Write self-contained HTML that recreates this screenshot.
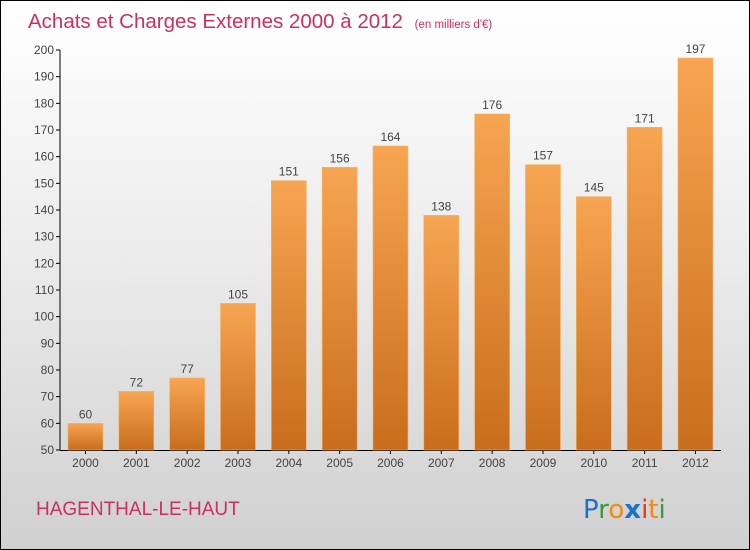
<!DOCTYPE html>
<html><head><meta charset="utf-8"><style>
html,body{margin:0;padding:0;}
body{width:750px;height:550px;overflow:hidden;font-family:"Liberation Sans",sans-serif;}
#wrap{position:relative;width:748px;height:548px;border:1px solid #000;background:linear-gradient(#ffffff 0%,#ececec 45%,#d0d0d0 100%);}
</style></head><body>
<div id="wrap">
<svg id="chart" width="748" height="548" style="position:absolute;left:0;top:0">
<defs>
<linearGradient id="bg" x1="0" y1="0" x2="0" y2="1">
<stop offset="0" stop-color="#f7a552"/><stop offset="1" stop-color="#c96d1c"/>
</linearGradient>
</defs>
<text x="27" y="27" font-size="20.5" fill="#c8325e">Achats et Charges Externes 2000 à 2012 <tspan font-size="11.5" dx="6">(en milliers d'€)</tspan></text>
<text x="35" y="514" font-size="19" fill="#c8325e">HAGENTHAL-LE-HAUT</text>
<g font-size="26" font-family="'DejaVu Sans',sans-serif">
<text x="582" y="517"><tspan fill="#1a73c8">P</tspan><tspan fill="#3a9a3a">r</tspan><tspan fill="#f08a10">o</tspan><tspan fill="#1a73c8" font-weight="bold">x</tspan><tspan fill="#e23a1a">i</tspan><tspan fill="#f08a10">t</tspan><tspan fill="#3a9a3a">i</tspan></text>
</g>
<g id="axes"></g>
<g id="bars"></g>
</svg>
</div>
<script>
const years=["2000","2001","2002","2003","2004","2005","2006","2007","2008","2009","2010","2011","2012"];
const values=[60,72,77,105,151,156,164,138,176,157,145,171,197];
const yTicks=[50,60,70,80,90,100,110,120,130,140,150,160,170,180,190,200];
const NS="http://www.w3.org/2000/svg";
const yMin=50,yMax=200,y0=449,y1=49;
function yS(v){return y0-(v-yMin)/(yMax-yMin)*(y0-y1);}
function xS(i){return 67+i*50.83;}
const bw=35;
const axes=document.getElementById('axes'),bars=document.getElementById('bars');
function mk(t,a,p){const e=document.createElementNS(NS,t);for(const k in a)e.setAttribute(k,a[k]);p.appendChild(e);return e;}
let yl=mk('line',{x1:59,y1:y1,x2:59,y2:y0,stroke:'#000','stroke-width':1},axes);


let xl=mk('line',{x1:59,y1:y0+0.5,x2:720,y2:y0+0.5,stroke:'#000','stroke-width':1},axes);


yTicks.forEach(v=>{
  const y=yS(v);
  mk('line',{x1:55,y1:y,x2:59,y2:y,stroke:'#000'},axes);
  const t=mk('text',{x:53,y:y+4,'font-size':12,fill:'#444','text-anchor':'end'},axes);
  t.textContent=v;
  
  
});
years.forEach((yr,i)=>{
  const x=xS(i),v=values[i],top=yS(v);
  const r=mk('rect',{x:x,y:top,width:bw,height:y0-top,fill:'url(#bg)',stroke:'#f5b46a','stroke-width':0.6},bars);
  
  
  const lb=mk('text',{x:x+bw/2,y:top-5,'font-size':12,fill:'#444','text-anchor':'middle'},bars);
  lb.textContent=v;
  
  
  mk('line',{x1:x+bw/2,y1:y0,x2:x+bw/2,y2:y0+4,stroke:'#000'},axes);
  const xt=mk('text',{x:x+bw/2,y:y0+17,'font-size':12,fill:'#444','text-anchor':'middle'},axes);
  xt.textContent=yr;
  
  
});
</script>
</body></html>
